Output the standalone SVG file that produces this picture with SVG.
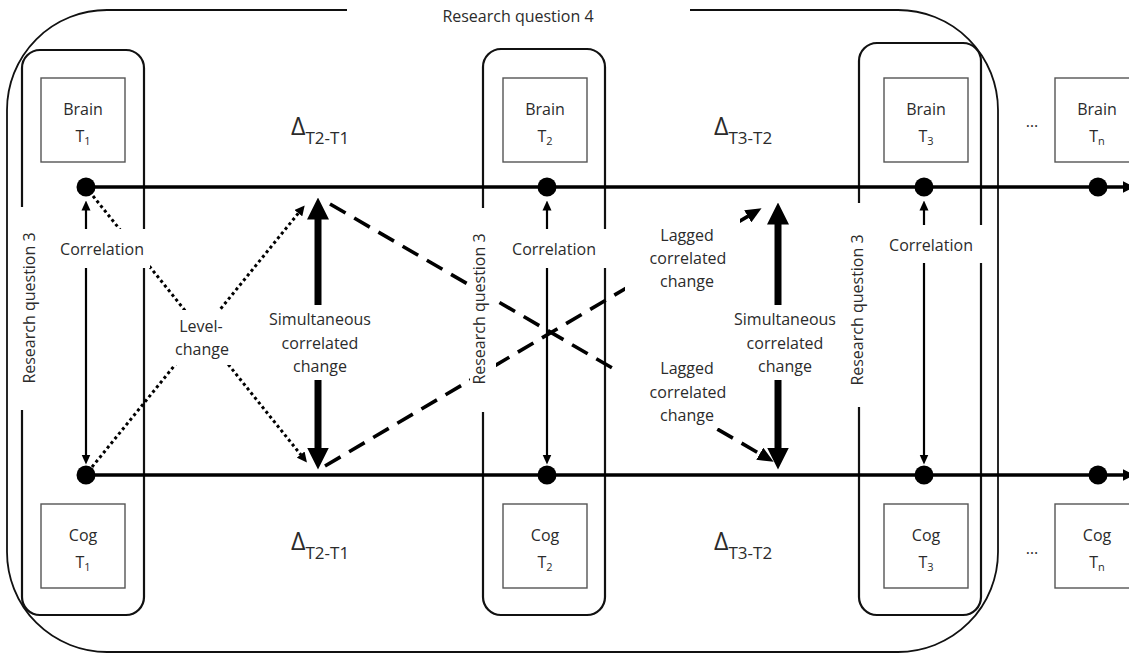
<svg xmlns="http://www.w3.org/2000/svg" width="1129" height="655" viewBox="0 0 1129 655">
<style>
  text { font-family: "Open Sans", "Liberation Sans", sans-serif; font-size: 16px; fill: #2b2b2b; }
  .outer { fill: none; stroke: #111; stroke-width: 1.8; }
  .col { fill: none; stroke: #111; stroke-width: 2.2; }
  .box { fill: #fff; stroke: #555; stroke-width: 1.4; }
  .dot { fill: #000; }
  .hline { stroke: #000; stroke-width: 3.6; fill: none; }
  .corr { stroke: #000; stroke-width: 2.2; fill: none; }
  .sim { stroke: #000; stroke-width: 7; fill: none; }
  .dotted { stroke: #000; stroke-width: 3; stroke-dasharray: 3 3; fill: none; }
  .dashed { stroke: #000; stroke-width: 3.6; stroke-dasharray: 18 10; fill: none; }
  .bg { fill: #fff; stroke: none; }
  .mk { fill: #000; stroke: none; }
  .delta { font-size: 25px; }
  .sub { font-size: 17px; }
  .small { font-size: 11px; }
</style>
<defs>
  <marker id="m-corr" markerUnits="userSpaceOnUse" markerWidth="10" markerHeight="10" viewBox="0 -5 10 10" refX="0.5" refY="0" orient="auto"><path class="mk" d="M0,-4.5 L10,0 L0,4.5z"/></marker>
  <marker id="m-big" markerUnits="userSpaceOnUse" markerWidth="22" markerHeight="22" viewBox="0 -11 22 22" refX="0.5" refY="0" orient="auto"><path class="mk" d="M0,-11 L22,0 L0,11z"/></marker>
  <marker id="m-dot" markerUnits="userSpaceOnUse" markerWidth="10" markerHeight="10" viewBox="0 -5 10 10" refX="0.5" refY="0" orient="auto"><path class="mk" d="M0,-5 L10,0 L0,5z"/></marker>
  <marker id="m-dash" markerUnits="userSpaceOnUse" markerWidth="16" markerHeight="14" viewBox="0 -7 16 14" refX="0.5" refY="0" orient="auto"><path class="mk" d="M0,-7 L16,0 L0,7z"/></marker>
  <marker id="m-h" markerUnits="userSpaceOnUse" markerWidth="12" markerHeight="12" viewBox="0 -6 12 12" refX="0.5" refY="0" orient="auto"><path class="mk" d="M0,-6 L12,0 L0,6z"/></marker>
</defs>
<rect width="1129" height="655" fill="#fff"/>

<g id="research-question-4">
  <path class="outer" d="M347,10 H107 A100,100 0 0 0 7,110 V552 A100,100 0 0 0 107,652 H898 A100,100 0 0 0 998,552 V110 A100,100 0 0 0 898,10 H690"/>
  <text x="518" y="22" text-anchor="middle">Research question 4</text>
</g>

<g id="columns">
  <rect id="col-t1" class="col" x="22" y="50" width="122" height="565" rx="18"/>
  <rect id="col-t2" class="col" x="483" y="49" width="122" height="566" rx="18"/>
  <rect id="col-t3" class="col" x="859" y="43" width="122" height="572" rx="18"/>
</g>

<g id="connectors">
  <line class="hline" x1="86" y1="187" x2="1123" y2="187" marker-end="url(#m-h)"/>
  <line class="hline" x1="86" y1="475" x2="1123" y2="475" marker-end="url(#m-h)"/>
  <line class="corr" x1="86" y1="229" x2="86" y2="210" marker-end="url(#m-corr)"/>
  <line class="corr" x1="86" y1="268" x2="86" y2="455" marker-end="url(#m-corr)"/>
  <line class="corr" x1="547" y1="229" x2="547" y2="210" marker-end="url(#m-corr)"/>
  <line class="corr" x1="547" y1="268" x2="547" y2="455" marker-end="url(#m-corr)"/>
  <line class="corr" x1="924" y1="225" x2="924" y2="210" marker-end="url(#m-corr)"/>
  <line class="corr" x1="924" y1="263" x2="924" y2="455" marker-end="url(#m-corr)"/>
  <line class="sim" x1="318" y1="305" x2="318" y2="219" marker-end="url(#m-big)"/>
  <line class="sim" x1="318" y1="380" x2="318" y2="448" marker-end="url(#m-big)"/>
  <line class="sim" x1="778" y1="305" x2="778" y2="224" marker-end="url(#m-big)"/>
  <line class="sim" x1="778" y1="380" x2="778" y2="448" marker-end="url(#m-big)"/>
  <line class="dotted" x1="93" y1="196" x2="301" y2="455" marker-end="url(#m-dot)"/>
  <line class="dotted" x1="92" y1="467" x2="298.7" y2="212.8" marker-end="url(#m-dot)"/>
  <line class="dashed" x1="330" y1="204" x2="760.2" y2="454" marker-end="url(#m-dash)"/>
  <line class="dashed" x1="325" y1="466" x2="748.2" y2="216.1" marker-end="url(#m-dash)"/>
</g>

<g id="labels">
  <g id="label-rq3-1">
    <rect class="bg" x="17" y="207" width="26" height="203"/>
    <text transform="translate(35,308) rotate(-90)" text-anchor="middle">Research question 3</text>
  </g>
  <g id="label-rq3-2">
    <rect class="bg" x="470" y="208" width="26" height="204"/>
    <text transform="translate(485,309) rotate(-90)" text-anchor="middle">Research question 3</text>
  </g>
  <g id="label-rq3-3">
    <rect class="bg" x="847" y="203" width="24" height="204"/>
    <text transform="translate(863,310) rotate(-90)" text-anchor="middle">Research question 3</text>
  </g>
  <g id="label-corr-1">
    <rect class="bg" x="45" y="229" width="105" height="39"/>
    <text x="102" y="255" text-anchor="middle">Correlation</text>
  </g>
  <g id="label-corr-2">
    <rect class="bg" x="505" y="229" width="105" height="39"/>
    <text x="554" y="255" text-anchor="middle">Correlation</text>
  </g>
  <g id="label-corr-3">
    <rect class="bg" x="884" y="225" width="103" height="38"/>
    <text x="931" y="251" text-anchor="middle">Correlation</text>
  </g>
  <g id="label-level">
    <rect class="bg" x="172" y="310" width="60" height="55"/>
    <text x="201" y="332" text-anchor="middle">Level-</text>
    <text x="202" y="355" text-anchor="middle">change</text>
  </g>
  <g id="label-sim-1">
    <rect class="bg" x="262" y="305" width="115" height="75"/>
    <text x="320" y="325" text-anchor="middle">Simultaneous</text>
    <text x="320" y="349" text-anchor="middle">correlated</text>
    <text x="320" y="372" text-anchor="middle">change</text>
  </g>
  <g id="label-sim-2">
    <rect class="bg" x="728" y="305" width="114" height="75"/>
    <text x="785" y="325" text-anchor="middle">Simultaneous</text>
    <text x="785" y="349" text-anchor="middle">correlated</text>
    <text x="785" y="372" text-anchor="middle">change</text>
  </g>
  <g id="label-lag-1">
    <rect class="bg" x="625" y="218" width="115" height="78"/>
    <text x="687" y="241" text-anchor="middle">Lagged</text>
    <text x="688" y="264" text-anchor="middle">correlated</text>
    <text x="687" y="287" text-anchor="middle">change</text>
  </g>
  <g id="label-lag-2">
    <rect class="bg" x="615" y="352" width="120" height="76"/>
    <text x="687" y="374" text-anchor="middle">Lagged</text>
    <text x="688" y="398" text-anchor="middle">correlated</text>
    <text x="687" y="421" text-anchor="middle">change</text>
  </g>
  <g id="label-deltas">
    <text class="delta" x="291" y="135">Δ<tspan class="sub" dy="9">T2-T1</tspan></text>
    <text class="delta" x="714" y="135">Δ<tspan class="sub" dy="9">T3-T2</tspan></text>
    <text class="delta" x="291" y="550">Δ<tspan class="sub" dy="9">T2-T1</tspan></text>
    <text class="delta" x="714" y="550">Δ<tspan class="sub" dy="9">T3-T2</tspan></text>
  </g>
  <g id="label-ellipsis">
    <text x="1032" y="127" text-anchor="middle" font-size="13">…</text>
    <text x="1032" y="554" text-anchor="middle" font-size="13">…</text>
  </g>
</g>

<g id="dots">
  <circle class="dot" cx="86" cy="187" r="9.5"/>
  <circle class="dot" cx="547" cy="187" r="9.5"/>
  <circle class="dot" cx="924" cy="187" r="9.5"/>
  <circle class="dot" cx="1098" cy="187" r="9.5"/>
  <circle class="dot" cx="86" cy="475" r="9.5"/>
  <circle class="dot" cx="547" cy="475" r="9.5"/>
  <circle class="dot" cx="924" cy="475" r="9.5"/>
  <circle class="dot" cx="1098" cy="475" r="9.5"/>
</g>

<g id="brain-t1"><rect class="box" x="41" y="78" width="84" height="84"/><text x="83" y="115" text-anchor="middle">Brain</text><text x="83" y="142" text-anchor="middle">T<tspan class="small" dy="3">1</tspan></text></g>
<g id="brain-t2"><rect class="box" x="503" y="78" width="84" height="84"/><text x="545" y="115" text-anchor="middle">Brain</text><text x="545" y="142" text-anchor="middle">T<tspan class="small" dy="3">2</tspan></text></g>
<g id="brain-t3"><rect class="box" x="884" y="78" width="84" height="84"/><text x="926" y="115" text-anchor="middle">Brain</text><text x="926" y="142" text-anchor="middle">T<tspan class="small" dy="3">3</tspan></text></g>
<g id="brain-tn"><rect class="box" x="1055" y="78" width="84" height="84"/><text x="1097" y="115" text-anchor="middle">Brain</text><text x="1097" y="142" text-anchor="middle">T<tspan class="small" dy="3">n</tspan></text></g>
<g id="cog-t1"><rect class="box" x="41" y="504" width="84" height="84"/><text x="83" y="541" text-anchor="middle">Cog</text><text x="83" y="568" text-anchor="middle">T<tspan class="small" dy="3">1</tspan></text></g>
<g id="cog-t2"><rect class="box" x="503" y="504" width="84" height="84"/><text x="545" y="541" text-anchor="middle">Cog</text><text x="545" y="568" text-anchor="middle">T<tspan class="small" dy="3">2</tspan></text></g>
<g id="cog-t3"><rect class="box" x="884" y="504" width="84" height="84"/><text x="926" y="541" text-anchor="middle">Cog</text><text x="926" y="568" text-anchor="middle">T<tspan class="small" dy="3">3</tspan></text></g>
<g id="cog-tn"><rect class="box" x="1055" y="504" width="84" height="84"/><text x="1097" y="541" text-anchor="middle">Cog</text><text x="1097" y="568" text-anchor="middle">T<tspan class="small" dy="3">n</tspan></text></g>
</svg>
